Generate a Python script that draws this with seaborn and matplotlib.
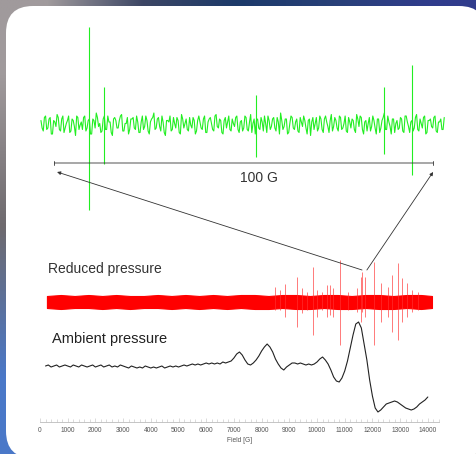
import numpy as np
import pandas as pd
import matplotlib
matplotlib.use("Agg")
import matplotlib.pyplot as plt
import seaborn as sns
from matplotlib.patches import FancyBboxPatch, ConnectionPatch
from matplotlib.ticker import MultipleLocator

sns.set_style("white")
plt.rcParams["font.family"] = ["Liberation Sans", "DejaVu Sans"]

# ---- ambient pressure spectrum (field in G, intensity in arb. units) ----
ambient_field = np.arange(200, 14001, 100)
ambient_signal = [0, 1, -1, 0, 1, -1, 0, 1, 0,
                  -1, 1, 0, -1, 1, 0, -1, 0, 1, -1,
                  0, 1, -1, 0, 1, -1, 0, -1, 1, 0,
                  -1, -2, 0, -1, -2, -1, -2, 0, -1, -2,
                  -1, -2, -1, 0, -2, -1, 0, -1, 0, -1,
                  0, 1, 0, 1, 2, 1, 2, 1, 2, 3,
                  2, 3, 2, 3, 2, 4, 3, 4, 5, 8,
                  12, 14, 11, 6, 2, 1, 3, 6, 10, 15,
                  19, 22, 19, 14, 7, 2, -2, -4, -1, 1,
                  3, 3, 2, 3, 2, 1, 2, 1, 2, 4,
                  7, 9, 6, 2, -4, -11, -15, -16, -12, -5,
                  5, 18, 31, 42, 44, 38, 22, 6, -14, -30,
                  -42, -46, -44, -41, -38, -37, -36, -35, -36, -38,
                  -40, -42, -43, -44, -43, -41, -38, -36, -34, -31]

# ---- reduced pressure spectrum: noise band + sharp lines ----
reduced_band_field = [250, 750, 1250, 1750, 2250, 2750, 3250, 3750, 4250, 4750, 5250, 5750,
                      6250, 6750, 7250, 7750, 8250, 8750, 9250, 9750, 10250, 10750, 11250,
                      11750, 12250, 12750, 13250, 13750, 14150]
reduced_band_upper = [6, 7, 6, 7, 6, 7, 6, 6, 7, 6, 7, 6, 7, 6, 7, 7, 6, 7, 7, 6, 7, 7, 6, 7, 7, 6, 7, 7, 6]
reduced_band_lower = [-6, -7, -6, -6, -7, -6, -7, -6, -6, -7, -6, -7, -6, -7, -6, -7, -7, -6, -7, -7,
                      -6, -7, -7, -6, -7, -7, -6, -7, -6]
reduced_line_field = [8484, 8664, 8845, 9267, 9447, 9627, 9868, 9988, 10168, 10349, 10469, 10590,
                      10830, 11131, 11432, 11588, 11637, 11733, 12069, 12310, 12575, 12695,
                      12912, 13057, 13237, 13418, 13658]
reduced_line_up = [15, 12, 18, 25, 14, 10, 35, 12, 10, 17, 17, 14, 42, 10, 14, 25, 30, 25, 40, 19,
                   15, 27, 39, 24, 19, 12, 10]
reduced_line_down = [8, 8, 15, 25, 11, 8, 33, 15, 8, 15, 13, 15, 43, 8, 10, 20, 10, 15, 43, 20,
                     15, 30, 38, 20, 15, 10, 8]

# ---- zoomed 100 G window (green) ----
zoom_field = np.round(np.arange(-2.8, 102.21, 0.6), 2)
zoom_noise = [3, -4, 6, -2, 5, -6, 2, 7, -3, 4, -5, 1, 6, -4, 3, -7, 5, 0, -3, 6, -2, 4,
              -6, 3, 8, -1, -5, 4, -3, 6, 2, -7, 5, -2, 3, 7, -4, 1, -6, 4, 5, -3, 2, -5,
              6, -1, 3, -6, 4, 8, -2, 5, -4, 2, -7, 3, 6, -3, 1, 5, -5, 7, -2, 4, -4, 0,
              5, -6, 3, 2, -3, 6, -5, 4, 1, -4, 7, -2, 3, -6, 5, 2, -3, 4, -1, 6, -5, 3,
              -2, 5, -4, 7, 1, -6, 4, -3, 2, 6, -5, 3, -1, 5, -4, 2, 8, -3, 4, -6, 1, 5,
              -3, 4, -5, 2, 6, -2, 3, -7, 5, 1, -4, 6, -3, 4, 2, -5, 7, -1, 3, -4, 5, -2,
              6, -5, 2, 4, -3, 7, -1, 5, -6, 3, 1, -4, 6, -2, 4, -5, 3, 8, -3, 2, -6, 4,
              1, -3, 5, -4, 6, 2, -5, 3, -2, 7, -4, 1, 5, -6, 3, 4, -2, 6, -5, 2, -3, 5]
zoom_field_mid = np.round(np.arange(-2.5, 101.95, 0.6), 2)
zoom_noise_mid = [-2, 5, -3, 4, -6, 3, -1, 5, -4, 6, -2, 3, -5, 4, -1, 6, -3, 2, 5, -4, 3, -6,
                  4, -2, 5, 1, -4, 6, -3, 2, -5, 4, 3, -2, 6, -4, 1, 5, -3, 4, -2, 6, -5, 2,
                  -3, 6, -4, 2, 5, -3, 4, -1, 6, -5, 3, 2, -4, 5, -2, 3, -6, 4, 1, -3, 5, -2,
                  3, -4, 6, -2, 4, -5, 2, 5, -3, 6, -1, 4, -5, 3, -2, 6, -4, 1, 5, -3, 2, -4,
                  6, -3, 2, -5, 4, 3, -2, 5, -4, 1, 6, -3, 4, -2, 5, -6, 3, -1, 4, -5, 6, -2,
                  2, -4, 5, -1, 3, -6, 4, 2, -3, 5, -2, 4, -5, 6, -1, 3, -4, 5, -2, 6, -3, 1,
                  -4, 5, -2, 3, -5, 4, 6, -3, 2, -4, 5, -1, 3, -6, 4, -2, 5, -3, 6, -1, 4, -5,
                  3, -2, 4, -5, 6, -1, 2, -4, 5, -3, 4, -2, 6, -5, 3, -1, 5, -4, 2, 4, -3]
zoom_line_field = [9.8, 13.6, 53.1, 86.4, 93.75]
zoom_line_up = [98, 38, 30, 38, 60]
zoom_line_down = [85, 39, 32, 29, 50]

ambient_df = pd.DataFrame({"field": ambient_field, "signal": ambient_signal})
zoom_df = pd.concat([
    pd.DataFrame({"field": zoom_field, "signal": zoom_noise[:len(zoom_field)]}),
    pd.DataFrame({"field": zoom_field_mid, "signal": zoom_noise_mid[:len(zoom_field_mid)]}),
]).sort_values("field")

fig = plt.figure(figsize=(4.77, 4.54), dpi=100)

# background frame and rounded white panel
ax_bg = fig.add_axes([0, 0, 1, 1])
grad = np.array([[[160, 154, 156], [60, 70, 100], [28, 58, 106], [40, 64, 120], [48, 60, 140]],
                 [[110, 106, 110], [50, 70, 130], [42, 74, 138], [42, 64, 130], [42, 58, 128]],
                 [[74, 120, 200], [70, 110, 190], [58, 90, 160], [80, 80, 110], [106, 88, 69]]]) / 255
ax_bg.imshow(grad, extent=[0, 477, 454, 0], interpolation="bilinear", aspect="auto")
ax_bg.add_patch(FancyBboxPatch((6, 6), 480, 452, boxstyle="round,pad=0,rounding_size=27",
                               facecolor="white", edgecolor="none"))
ax_bg.set_xlim(0, 477)
ax_bg.set_ylim(454, 0)
ax_bg.axis("off")

# main spectrum axes
ax = fig.add_axes([40 / 477, 32 / 454, 398.9 / 477, 177 / 454])
ax.patch.set_alpha(0)
red_off, black_off = 120, 56

ax.fill_between(reduced_band_field, [red_off + v for v in reduced_band_upper],
                [red_off + v for v in reduced_band_lower], color="#ff0000", lw=0.8, edgecolor="#ff0000")
ax.vlines(reduced_line_field, [red_off - d for d in reduced_line_down],
          [red_off + u for u in reduced_line_up], color="#ff3030", lw=0.6, alpha=0.75)

sns.lineplot(x=ambient_df["field"], y=ambient_df["signal"] + black_off, ax=ax,
             color="#222222", linewidth=0.8, estimator=None)

ax.text(289, 149, "Reduced pressure", fontsize=10, color="#333333", va="baseline")
ax.text(433, 79, "Ambient pressure", fontsize=10.5, color="#222222", va="baseline")

ax.set_xlim(0, 14400)
ax.set_ylim(0, 177)
ax.xaxis.set_major_locator(MultipleLocator(1000))
ax.xaxis.set_minor_locator(MultipleLocator(200))
ax.tick_params(axis="x", which="both", direction="in", color="#cccccc", labelsize=4.8,
               labelcolor="#555555", pad=3.5, bottom=True)
ax.tick_params(axis="x", which="major", length=3, width=0.5)
ax.tick_params(axis="x", which="minor", length=2, width=0.5)
ax.set_yticks([])
ax.set_ylabel("")
ax.set_xlabel("Field [G]", fontsize=4.8, color="#555555", labelpad=2.5)
for s in ["left", "top", "right"]:
    ax.spines[s].set_visible(False)
ax.spines["bottom"].set_color("#bbbbbb")
ax.spines["bottom"].set_linewidth(0.6)

# zoomed window axes
ax_g = fig.add_axes([40 / 477, 239 / 454, 405 / 477, 195 / 454])
ax_g.patch.set_alpha(0)
g_off, g_gain = 90, 1.5
sns.lineplot(x=zoom_df["field"], y=zoom_df["signal"] * g_gain + g_off, ax=ax_g,
             color="#22ee22", linewidth=0.8, estimator=None, sort=False)
ax_g.vlines(zoom_line_field, [g_off - d for d in zoom_line_down],
            [g_off + u for u in zoom_line_up], color="#22ee22", lw=0.8)
ax_g.annotate("", xy=(100, 52), xytext=(0, 52),
              arrowprops=dict(arrowstyle="|-|", lw=0.6, color="#333333", mutation_scale=1.5))
ax_g.text(54, 37, "100 G", fontsize=10, color="#333333", ha="center", va="center")
ax_g.set_xlim(-3.05, 102.4)
ax_g.set_ylim(0, 195)
ax_g.axis("off")

# connector arrows from the red spectrum to the zoom window
for xa, xb in [(11625, 1.4), (11800, 99.3)]:
    con = ConnectionPatch(xyA=(xa, 152), coordsA=ax.transData, xyB=(xb, 43), coordsB=ax_g.transData,
                          arrowstyle="-|>", mutation_scale=5, lw=0.6, color="#333333")
    fig.add_artist(con)

fig.savefig("out.png", dpi=100)
